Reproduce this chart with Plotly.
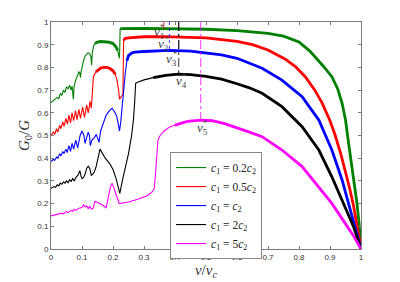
import plotly.graph_objects as go

# ---------------- data ----------------
green_v = [0, 0.01, 0.02, 0.025, 0.03, 0.035, 0.04, 0.045, 0.05, 0.055, 0.06, 0.065, 0.068, 0.072,
           0.075, 0.08, 0.085, 0.09, 0.093, 0.095, 0.097, 0.1, 0.105, 0.11, 0.115, 0.12, 0.125, 0.129,
           0.131, 0.133, 0.137, 0.142, 0.15, 0.16, 0.17, 0.18, 0.19, 0.2, 0.21, 0.215, 0.219, 0.221,
           0.223, 0.23, 0.3, 0.4, 0.5, 0.6, 0.7, 0.75, 0.8, 0.835, 0.858, 0.88, 0.906, 0.925, 0.939,
           0.95, 0.96, 0.968, 0.976, 0.987, 0.994, 1.0]
green_g = [0.645, 0.655, 0.668, 0.662, 0.685, 0.678, 0.700, 0.690, 0.715, 0.705, 0.722, 0.700, 0.718, 0.660,
           0.720, 0.745, 0.765, 0.780, 0.775, 0.755, 0.780, 0.800, 0.830, 0.850, 0.860, 0.865, 0.860, 0.845,
           0.810, 0.860, 0.895, 0.905, 0.912, 0.914, 0.914, 0.912, 0.910, 0.905, 0.890, 0.875, 0.850, 0.840,
           0.970, 0.971, 0.972, 0.971, 0.968, 0.962, 0.950, 0.938, 0.912, 0.872, 0.838, 0.803, 0.759, 0.705, 0.642,
           0.570, 0.466, 0.390, 0.318, 0.201, 0.110, 0.0]

red_v = [0, 0.008, 0.012, 0.018, 0.022, 0.028, 0.032, 0.038, 0.042, 0.048, 0.053, 0.058, 0.063, 0.068,
         0.073, 0.079, 0.084, 0.09, 0.095, 0.102, 0.108, 0.115, 0.12, 0.126, 0.13, 0.133, 0.137, 0.145,
         0.152, 0.16, 0.17, 0.18, 0.19, 0.2, 0.207, 0.213, 0.218, 0.221, 0.226, 0.232, 0.234, 0.24, 0.25,
         0.3, 0.364, 0.45, 0.5, 0.6, 0.65, 0.7, 0.756, 0.79, 0.82, 0.85, 0.874, 0.9, 0.917, 0.935, 0.949,
         0.963, 0.976, 0.988, 1.0]
red_g = [0.500, 0.515, 0.505, 0.530, 0.515, 0.545, 0.530, 0.560, 0.540, 0.575, 0.550, 0.590, 0.555, 0.600,
         0.565, 0.610, 0.570, 0.615, 0.575, 0.625, 0.580, 0.635, 0.600, 0.650, 0.620, 0.700, 0.760, 0.780,
         0.790, 0.797, 0.800, 0.800, 0.795, 0.785, 0.770, 0.745, 0.700, 0.660, 0.670, 0.680, 0.920, 0.928, 0.930,
         0.935, 0.936, 0.934, 0.930, 0.915, 0.900, 0.877, 0.836, 0.802, 0.759, 0.702, 0.645, 0.565, 0.500, 0.418,
         0.345, 0.270, 0.190, 0.100, 0.0]

blue_v = [0, 0.008, 0.012, 0.018, 0.022, 0.028, 0.032, 0.038, 0.042, 0.048, 0.052, 0.058, 0.063, 0.068,
          0.073, 0.08, 0.086, 0.094, 0.1, 0.106, 0.11, 0.115, 0.12, 0.124, 0.127, 0.132, 0.14, 0.146, 0.151,
          0.155, 0.16, 0.168, 0.178, 0.19, 0.197, 0.205, 0.212, 0.217, 0.221, 0.225, 0.23, 0.235, 0.24,
          0.245, 0.25, 0.26, 0.27, 0.3, 0.35, 0.38, 0.45, 0.5, 0.55, 0.6, 0.64, 0.681, 0.745, 0.81, 0.864,
          0.906, 0.939, 0.966, 0.985, 1.0]
blue_g = [0.385, 0.395, 0.390, 0.405, 0.400, 0.420, 0.410, 0.430, 0.420, 0.440, 0.425, 0.455, 0.430, 0.465,
          0.440, 0.480, 0.445, 0.500, 0.520, 0.500, 0.465, 0.490, 0.515, 0.500, 0.455, 0.480, 0.490, 0.505, 0.480,
          0.470, 0.520, 0.555, 0.590, 0.612, 0.620, 0.605, 0.585, 0.550, 0.520, 0.560, 0.640, 0.720, 0.780,
          0.830, 0.852, 0.863, 0.867, 0.870, 0.874, 0.875, 0.872, 0.865, 0.855, 0.840, 0.820, 0.796, 0.744, 0.671, 0.568,
          0.436, 0.304, 0.172, 0.080, 0.0]

black_v = [0, 0.01, 0.015, 0.02, 0.025, 0.03, 0.035, 0.04, 0.045, 0.05, 0.055, 0.06, 0.065, 0.07, 0.075,
           0.08, 0.087, 0.093, 0.097, 0.1, 0.105, 0.11, 0.115, 0.12, 0.125, 0.13, 0.135, 0.14, 0.145, 0.15,
           0.155, 0.158, 0.165, 0.175, 0.19, 0.2, 0.21, 0.217, 0.222, 0.23, 0.239, 0.25, 0.26, 0.266, 0.27,
           0.273, 0.28, 0.3, 0.33, 0.37, 0.41, 0.45, 0.5, 0.55, 0.6, 0.64, 0.681, 0.745, 0.81, 0.864, 0.906,
           0.944, 0.976, 1.0]
black_g = [0.267, 0.275, 0.272, 0.283, 0.278, 0.290, 0.285, 0.295, 0.290, 0.300, 0.292, 0.305, 0.298, 0.310, 0.300,
           0.315, 0.325, 0.345, 0.320, 0.310, 0.315, 0.330, 0.355, 0.365, 0.355, 0.325, 0.330, 0.340, 0.360, 0.385,
           0.420, 0.440, 0.425, 0.400, 0.375, 0.350, 0.310, 0.275, 0.245, 0.300, 0.348, 0.420, 0.500, 0.570, 0.650,
           0.730, 0.735, 0.745, 0.755, 0.765, 0.770, 0.768, 0.760, 0.748, 0.728, 0.710, 0.686, 0.627, 0.539, 0.436,
           0.318, 0.201, 0.098, 0.0]

magenta_v = [0, 0.02, 0.035, 0.04, 0.05, 0.055, 0.065, 0.07, 0.075, 0.08, 0.09, 0.1, 0.105, 0.11, 0.115,
             0.12, 0.125, 0.13, 0.136, 0.142, 0.15, 0.165, 0.178, 0.185, 0.192, 0.197, 0.203, 0.21, 0.22,
             0.25, 0.28, 0.31, 0.325, 0.333, 0.337, 0.34, 0.345, 0.352, 0.365, 0.38, 0.4, 0.44, 0.483, 0.52,
             0.56, 0.6, 0.64, 0.681, 0.745, 0.81, 0.864, 0.906, 0.949, 0.975, 1.0]
magenta_g = [0.146, 0.152, 0.158, 0.155, 0.165, 0.160, 0.170, 0.165, 0.175, 0.170, 0.180, 0.183, 0.195, 0.185, 0.190,
             0.178, 0.188, 0.176, 0.180, 0.210, 0.205, 0.195, 0.182, 0.230, 0.275, 0.290, 0.270, 0.240, 0.200,
             0.207, 0.219, 0.235, 0.250, 0.265, 0.330, 0.410, 0.480, 0.500, 0.520, 0.535, 0.546, 0.562, 0.568, 0.565,
             0.552, 0.535, 0.515, 0.495, 0.436, 0.363, 0.274, 0.201, 0.113, 0.060, 0.0]

series_names = ["<i>c</i><sub>1</sub> = 0.2<i>c</i><sub>2</sub>",
                "<i>c</i><sub>1</sub> = 0.5<i>c</i><sub>2</sub>",
                "<i>c</i><sub>1</sub> = <i>c</i><sub>2</sub>",
                "<i>c</i><sub>1</sub> = 2<i>c</i><sub>2</sub>",
                "<i>c</i><sub>1</sub> = 5<i>c</i><sub>2</sub>"]

# stable (thick) branches of each curve, as v-ranges
stable_ranges = [[(0.142, 0.216), (0.223, 1.0)],
                 [(0.145, 0.212), (0.234, 1.0)],
                 [(0.245, 1.0)],
                 [(0.33, 1.0)],
                 [(0.40, 1.0)]]

# critical speeds v_i* and the curve value there
vstar_v = [0.364, 0.382, 0.412, 0.412, 0.483]
vstar_g = [0.970, 0.875, 0.875, 0.770, 0.568]
vstar_label_v = [0.347, 0.364, 0.390, 0.420, 0.488]
vstar_label_g = [0.953, 0.901, 0.836, 0.740, 0.529]

x_ticks = [0, 0.1, 0.2, 0.3, 0.4, 0.5, 0.6, 0.7, 0.8, 0.9, 1]
y_ticks = [0, 0.1, 0.2, 0.3, 0.4, 0.5, 0.6, 0.7, 0.8, 0.9, 1]

# ---------------- figure ----------------
colors = ["#008000", "#FF0000", "#0000FF", "#000000", "#FF00FF"]
curves = [(green_v, green_g), (red_v, red_g), (blue_v, blue_g), (black_v, black_g), (magenta_v, magenta_g)]

fig = go.Figure()
serif = "Liberation Serif, DejaVu Serif, serif"
sans = "Liberation Sans, Arial, sans-serif"

for i, ((vv, gg), col) in enumerate(zip(curves, colors)):
    fig.add_trace(go.Scatter(x=vv, y=gg, mode="lines", line=dict(color=col, width=1.1),
                             name=series_names[i], legendrank=i + 1))
    for (a, b) in stable_ranges[i]:
        xs = [x for x in vv if a <= x <= b]
        ys = [y for x, y in zip(vv, gg) if a <= x <= b]
        fig.add_trace(go.Scatter(x=xs, y=ys, mode="lines", line=dict(color=col, width=2.8),
                                 showlegend=False, hoverinfo="skip"))

# vertical markers
vstyles = [("#FF0000", "solid"), ("#0000FF", "dot"), ("#000000", "dashdot"), ("#000000", "dashdot"), ("#FF00FF", "dashdot")]
for k in range(len(vstar_v)):
    c, d = vstyles[k]
    fig.add_trace(go.Scatter(x=[vstar_v[k], vstar_v[k]], y=[1.0, vstar_g[k]], mode="lines",
                             line=dict(color=c, width=0.8, dash=d), showlegend=False, hoverinfo="skip"))
    fig.add_annotation(x=vstar_label_v[k], y=vstar_label_g[k], xref="x", yref="y", showarrow=False,
                       text="<i>v</i><sub>%d</sub>" % (k + 1),
                       font=dict(family=serif, size=13, color="#444"))
    fig.add_annotation(x=vstar_label_v[k], y=vstar_label_g[k], xref="x", yref="y", showarrow=False,
                       text="*", xshift=3, yshift=5,
                       font=dict(family=serif, size=8, color="#444"))

axis_common = dict(range=[0, 1], showgrid=False, zeroline=False, showline=True, linecolor="#7a7a7a",
                   linewidth=1, mirror="ticks", ticks="inside", ticklen=3, tickcolor="#7a7a7a",
                   automargin=False, tickfont=dict(family=sans, size=8, color="#333"))
fig.update_xaxes(**axis_common, tickvals=x_ticks, ticktext=[("%g" % t) for t in x_ticks],
                 title=dict(text="<i>v</i>/<i>v</i><sub><i>c</i></sub>", font=dict(family=serif, size=15, color="#333"), standoff=2))
fig.update_yaxes(**axis_common, tickvals=y_ticks, ticktext=[("%g" % t) for t in y_ticks],
                 title=dict(text="<i>G</i><sub>0</sub>/<i>G</i>", font=dict(family=serif, size=15, color="#333"), standoff=4))

# the page adds an 8px body margin, so the margins are shifted to compensate
fig.update_layout(
    width=400, height=282, margin=dict(l=43, r=47, t=14, b=41),
    paper_bgcolor="white", plot_bgcolor="white",
    legend=dict(x=0.384, y=0.427, xanchor="left", yanchor="top", bgcolor="white",
                bordercolor="#888", borderwidth=1, font=dict(family=serif, size=11.5, color="#222"),
                itemwidth=30, tracegroupgap=0),
)

fig.write_html("out.html")
